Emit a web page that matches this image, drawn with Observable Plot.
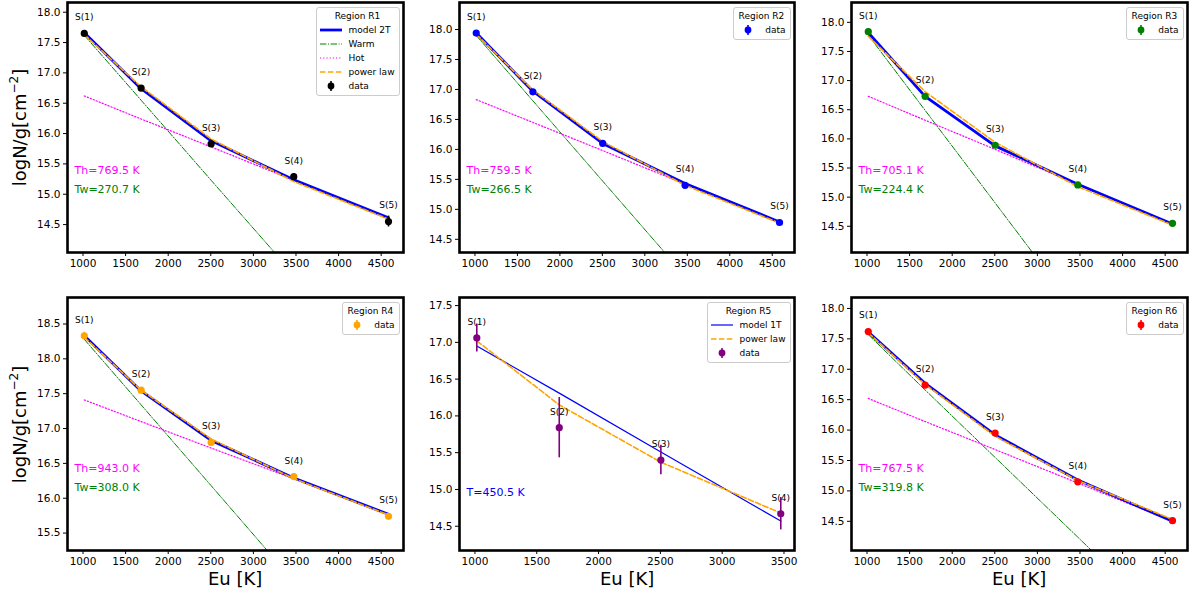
<!DOCTYPE html>
<html>
<head>
<meta charset="utf-8">
<script src="https://cdn.jsdelivr.net/npm/d3@7"></script>
<script src="https://cdn.jsdelivr.net/npm/@observablehq/plot@0.6"></script>
<style>
  html, body { margin: 0; padding: 0; background: white; }
  #fig { position: relative; width: 1200px; height: 600px; background: white; font-family: "DejaVu Sans", sans-serif; overflow: hidden; }
  .panel { position: absolute; }
  .legend { position: absolute; background: rgba(255,255,255,0.85); border: 1px solid #cccccc; border-radius: 3px; font-size: 9px; color: #000; padding: 1px 4px 2px 3px; box-sizing: border-box; }
  .legend .ttl { text-align: center; line-height: 14px; }
  .legend .row { display: flex; align-items: center; line-height: 14px; height: 14px; }
  .legend .row svg { flex: none; margin-right: 6px; }
  .lbl { position: absolute; color: #000; font-family: "DejaVu Sans", sans-serif; font-size: 18px; white-space: nowrap; }
</style>
</head>
<body>
<div id="fig"></div>
<script>
// ---------- data ----------
const eu = [1015, 1682, 2504, 3474, 4586];
const lineLabels = ["S(1)", "S(2)", "S(3)", "S(4)", "S(5)"];
const xTicks5 = [1000, 1500, 2000, 2500, 3000, 3500, 4000, 4500];
const xTicks4 = [1000, 1500, 2000, 2500, 3000, 3500];

// Region R1
const r1Obs   = [17.65, 16.75, 15.83, 15.29, 14.55];
const r1Err   = [0.04, 0.04, 0.04, 0.05, 0.09];
const r1Model = [17.66, 16.74, 15.88, 15.24, 14.61];
const r1Warm  = [17.62, 16.55, 15.23, 13.68, 11.89];
const r1Hot   = [16.62, 16.24, 15.78, 15.23, 14.61];
const r1Power = [17.63, 16.77, 15.91, 15.21, 14.59];
const r1Temps = [769.5, 270.7];

// Region R2
const r2Obs   = [17.94, 16.96, 16.10, 15.40, 14.78];
const r2Err   = [0.03, 0.03, 0.04, 0.04, 0.03];
const r2Model = [17.94, 16.97, 16.10, 15.43, 14.79];
const r2Warm  = [17.90, 16.81, 15.47, 13.89, 12.08];
const r2Hot   = [16.83, 16.45, 15.98, 15.42, 14.79];
const r2Power = [17.92, 16.99, 16.13, 15.40, 14.77];
const r2Temps = [759.5, 266.5];

// Region R3
const r3Obs   = [17.84, 16.73, 15.89, 15.21, 14.55];
const r3Err   = [0.03, 0.04, 0.03, 0.03, 0.03];
const r3Model = [17.82, 16.73, 15.88, 15.22, 14.54];
const r3Warm  = [17.78, 16.49, 14.90, 13.02, 10.87];
const r3Hot   = [16.73, 16.32, 15.82, 15.22, 14.54];
const r3Power = [17.76, 16.81, 15.94, 15.18, 14.52];
const r3Temps = [705.1, 224.4];

// Region R4
const r4Obs   = [18.33, 17.55, 16.80, 16.31, 15.74];
const r4Err   = [0.05, 0.04, 0.04, 0.04, 0.03];
const r4Model = [18.33, 17.54, 16.83, 16.29, 15.77];
const r4Warm  = [18.28, 17.34, 16.18, 14.81, 13.25];
const r4Hot   = [17.41, 17.10, 16.72, 16.28, 15.77];
const r4Power = [18.31, 17.55, 16.85, 16.28, 15.76];
const r4Temps = [943.0, 308.0];

// Region R5 (single temperature, S(1)-S(4))
const r5Obs   = [17.06, 15.84, 15.40, 14.67];
const r5Err   = [0.19, 0.41, 0.20, 0.22];
const r5Model = [16.95, 16.31, 15.51, 14.57];
const r5Power = [17.02, 16.15, 15.37, 14.68];
const r5Temp  = 450.5;

// Region R6
const r6Obs   = [17.62, 16.74, 15.95, 15.15, 14.51];
const r6Err   = [0.04, 0.03, 0.03, 0.03, 0.03];
const r6Model = [17.61, 16.77, 15.92, 15.18, 14.50];
const r6Warm  = [17.57, 16.66, 15.55, 14.24, 12.73];
const r6Hot   = [16.52, 16.14, 15.68, 15.13, 14.50];
const r6Power = [17.60, 16.75, 15.90, 15.17, 14.53];
const r6Temps = [767.5, 319.8];

const yTicksA = [14.5, 15.0, 15.5, 16.0, 16.5, 17.0, 17.5, 18.0];
const yTicksB = [15.5, 16.0, 16.5, 17.0, 17.5, 18.0, 18.5];
const yTicksC = [14.5, 15.0, 15.5, 16.0, 16.5, 17.0, 17.5];

// ---------- layout ----------
const ML = 45, MR = 3, MT = 3, MB = 22;
const fig = document.getElementById("fig");

function rowsOf(n, obs, err, model, warm, hot, power) {
  return d3.range(n).map(i => ({
    eu: eu[i], label: lineLabels[i], v: obs[i], e: err[i],
    model: model[i], warm: warm ? warm[i] : null, hot: hot ? hot[i] : null, power: power[i]
  }));
}

function panel(cfg) {
  const W = cfg.R - cfg.L, H = cfg.B - cfg.T;
  const rows = cfg.rows;
  const marks = [];
  if (cfg.twoT) {
    marks.push(Plot.line(rows, {x: "eu", y: "warm", stroke: "green", strokeWidth: 1, strokeDasharray: "6.4,1.6,1,1.6", clip: true}));
    marks.push(Plot.line(rows, {x: "eu", y: "hot", stroke: "magenta", strokeWidth: 1.2, strokeDasharray: "1.2,2", clip: true}));
    marks.push(Plot.line(rows, {x: "eu", y: "model", stroke: "blue", strokeWidth: 2.8, clip: true}));
  } else {
    marks.push(Plot.line(rows, {x: "eu", y: "model", stroke: "blue", strokeWidth: 1.2, clip: true}));
  }
  marks.push(Plot.line(rows, {x: "eu", y: "power", stroke: "orange", strokeWidth: 1.6, strokeDasharray: "5.5,2.4", clip: true}));
  marks.push(Plot.ruleX(rows, {x: "eu", y1: d => d.v - d.e, y2: d => d.v + d.e, stroke: cfg.color, strokeWidth: 1.6}));
  marks.push(Plot.dot(rows, {x: "eu", y: "v", r: 3.6, fill: cfg.color, stroke: "none"}));
  marks.push(Plot.text(rows, {x: "eu", y: "v", text: "label", dy: -16, fontSize: 9, fill: "black"}));
  cfg.notes.forEach(n => {
    marks.push(Plot.text([n.text], {text: d => d, frameAnchor: "bottom-left", dx: 7, dy: n.dy, textAnchor: "start", fill: n.color, fontSize: 11}));
  });
  marks.push(Plot.frame({stroke: "black", strokeWidth: 2.6}));

  const svg = Plot.plot({
    width: W + ML + MR,
    height: H + MT + MB,
    marginLeft: ML, marginRight: MR, marginTop: MT, marginBottom: MB,
    style: {fontFamily: "DejaVu Sans", fontSize: "10.5px", color: "black", background: "transparent", overflow: "visible"},
    x: {domain: cfg.xDomain, ticks: cfg.xTicks, tickFormat: d => String(d), label: null, tickSize: 4, tickPadding: 3},
    y: {domain: cfg.yDomain, ticks: cfg.yTicks, tickFormat: d3.format(".1f"), label: null, tickSize: 4, tickPadding: 3},
    marks
  });
  const wrap = document.createElement("div");
  wrap.className = "panel";
  wrap.style.left = (cfg.L - ML) + "px";
  wrap.style.top = (cfg.T - MT) + "px";
  wrap.appendChild(svg);
  fig.appendChild(wrap);

  // legend
  const lg = document.createElement("div");
  lg.className = "legend";
  lg.style.right = (1200 - cfg.R + 3.5) + "px";
  lg.style.top = (cfg.T + 4.5) + "px";
  let html = `<div class="ttl">${cfg.title}</div>`;
  cfg.legend.forEach(en => {
    let sample;
    if (en.type === "data") {
      sample = `<svg width="22" height="12"><line x1="11" x2="11" y1="1" y2="11" stroke="${en.color}" stroke-width="1.6"/><circle cx="11" cy="6" r="3.4" fill="${en.color}"/></svg>`;
    } else {
      sample = `<svg width="22" height="12"><line x1="0" x2="22" y1="6" y2="6" stroke="${en.color}" stroke-width="${en.width}" ${en.dash ? `stroke-dasharray="${en.dash}"` : ""}/></svg>`;
    }
    html += `<div class="row">${sample}<span>${en.label}</span></div>`;
  });
  lg.innerHTML = html;
  fig.appendChild(lg);
}

const xDom5 = [818, 4762];
const xDom4 = [875, 3585];

function notes2T(t) {
  return [
    {text: `Th=${t[0].toFixed(1)} K`, color: "magenta", dy: -79},
    {text: `Tw=${t[1].toFixed(1)} K`, color: "green", dy: -60}
  ];
}
const dataEntry = c => ({type: "data", color: c, label: "data"});

panel({L: 67, R: 403, T: 2, B: 252, color: "black", twoT: true,
  rows: rowsOf(5, r1Obs, r1Err, r1Model, r1Warm, r1Hot, r1Power),
  xDomain: xDom5, xTicks: xTicks5, yDomain: [14.04, 18.16], yTicks: yTicksA,
  notes: notes2T(r1Temps), title: "Region R1",
  legend: [
    {type: "line", color: "blue", width: 2.8, label: "model 2T"},
    {type: "line", color: "green", width: 1, dash: "6.4,1.6,1,1.6", label: "Warm"},
    {type: "line", color: "magenta", width: 1.2, dash: "1.2,2", label: "Hot"},
    {type: "line", color: "orange", width: 1.6, dash: "5.5,2.4", label: "power law"},
    dataEntry("black")
  ]});

panel({L: 459, R: 794, T: 2, B: 252, color: "blue", twoT: true,
  rows: rowsOf(5, r2Obs, r2Err, r2Model, r2Warm, r2Hot, r2Power),
  xDomain: xDom5, xTicks: xTicks5, yDomain: [14.28, 18.45], yTicks: yTicksA,
  notes: notes2T(r2Temps), title: "Region R2", legend: [dataEntry("blue")]});

panel({L: 851, R: 1187, T: 2, B: 252, color: "green", twoT: true,
  rows: rowsOf(5, r3Obs, r3Err, r3Model, r3Warm, r3Hot, r3Power),
  xDomain: xDom5, xTicks: xTicks5, yDomain: [14.05, 18.34], yTicks: yTicksA,
  notes: notes2T(r3Temps), title: "Region R3", legend: [dataEntry("green")]});

panel({L: 67, R: 403, T: 297, B: 550, color: "orange", twoT: true,
  rows: rowsOf(5, r4Obs, r4Err, r4Model, r4Warm, r4Hot, r4Power),
  xDomain: xDom5, xTicks: xTicks5, yDomain: [15.25, 18.88], yTicks: yTicksB,
  notes: notes2T(r4Temps), title: "Region R4", legend: [dataEntry("orange")]});

panel({L: 459, R: 794, T: 297, B: 550, color: "purple", twoT: false,
  rows: rowsOf(4, r5Obs, r5Err, r5Model, null, null, r5Power),
  xDomain: xDom4, xTicks: xTicks4, yDomain: [14.17, 17.61], yTicks: yTicksC,
  notes: [{text: `T=${r5Temp.toFixed(1)} K`, color: "blue", dy: -55}], title: "Region R5",
  legend: [
    {type: "line", color: "blue", width: 1.2, label: "model 1T"},
    {type: "line", color: "orange", width: 1.6, dash: "5.5,2.4", label: "power law"},
    dataEntry("purple")
  ]});

panel({L: 851, R: 1187, T: 297, B: 550, color: "red", twoT: true,
  rows: rowsOf(5, r6Obs, r6Err, r6Model, r6Warm, r6Hot, r6Power),
  xDomain: xDom5, xTicks: xTicks5, yDomain: [14.02, 18.18], yTicks: yTicksA,
  notes: notes2T(r6Temps), title: "Region R6", legend: [dataEntry("red")]});

// axis labels
function addLabel(html, cx, cy, rotate) {
  const d = document.createElement("div");
  d.className = "lbl";
  d.innerHTML = html;
  fig.appendChild(d);
  const w = d.offsetWidth, h = d.offsetHeight;
  d.style.left = (cx - w / 2) + "px";
  d.style.top = (cy - h / 2) + "px";
  if (rotate) d.style.transform = "rotate(-90deg)";
}
const yLabelHTML = 'logN/g[cm<sup style="font-size:12px;vertical-align:8px;line-height:0">−2</sup>]';
addLabel(yLabelHTML, 20, 127, true);
addLabel(yLabelHTML, 20, 424, true);
addLabel("Eu [K]", 235, 578, false);
addLabel("Eu [K]", 627, 578, false);
addLabel("Eu [K]", 1019, 578, false);
</script>
</body>
</html>
